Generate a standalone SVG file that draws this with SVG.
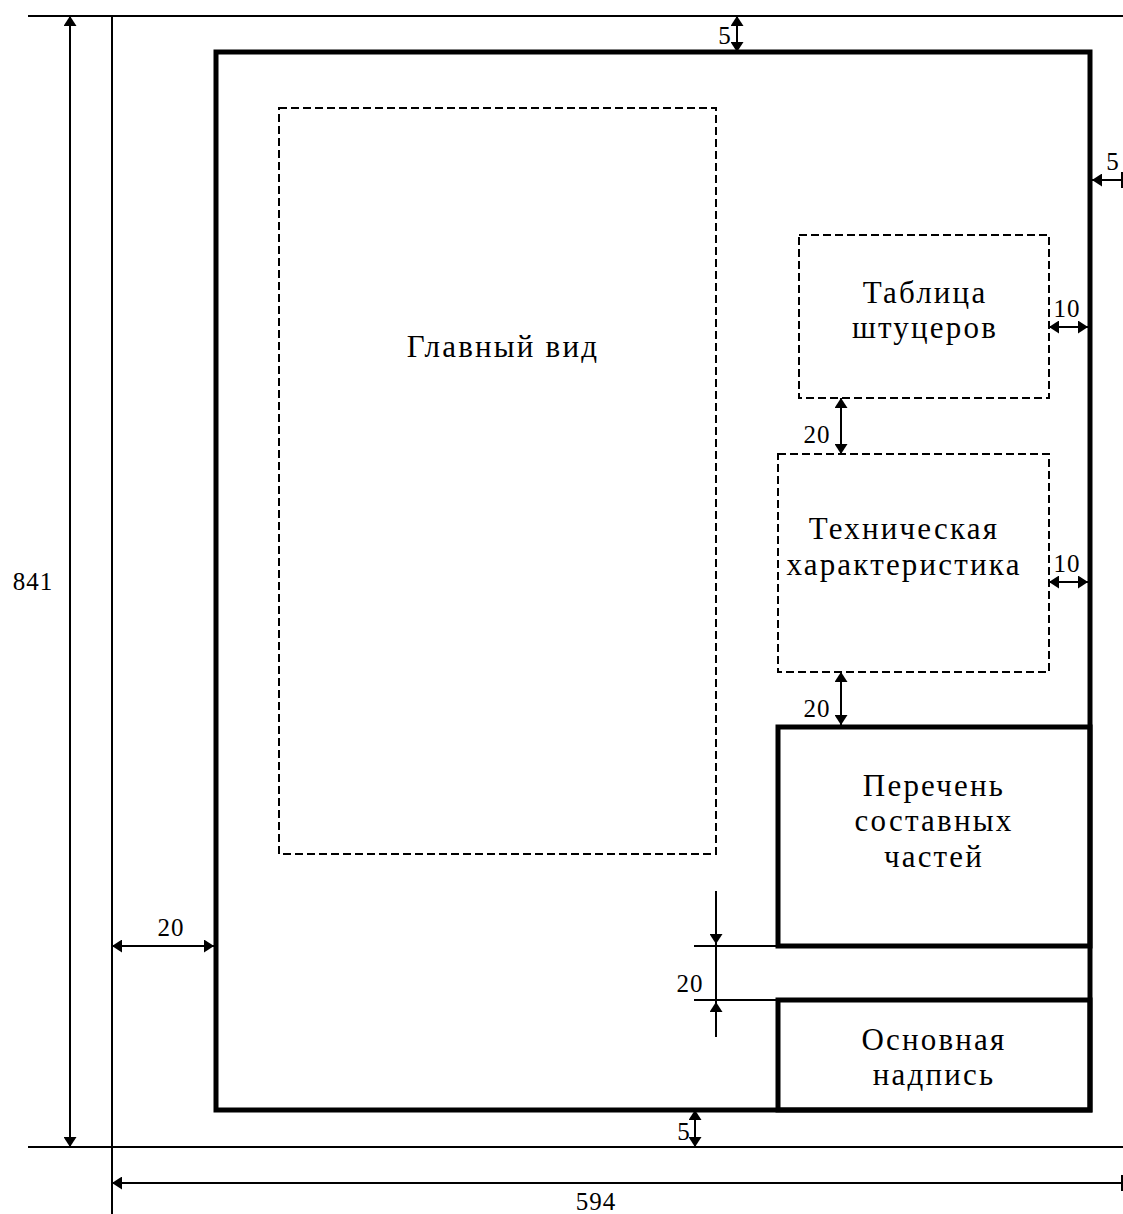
<svg xmlns="http://www.w3.org/2000/svg" width="1123" height="1214" viewBox="0 0 1123 1214">
<style>
.thin{stroke:#000;stroke-width:2;fill:none}
.dim{stroke:#000;stroke-width:2;fill:none}
.thick{stroke:#000;stroke-width:5;fill:none}
.dash{stroke:#000;stroke-width:2;fill:none;stroke-dasharray:8,4}
.t{font-family:"Liberation Serif","Times New Roman",serif;font-size:31px;letter-spacing:2.2px;fill:#000;text-anchor:middle}
.l{font-family:"Liberation Serif","Times New Roman",serif;font-size:25px;letter-spacing:1px;fill:#000;text-anchor:middle}
</style>
<defs>
<marker id="a" markerUnits="userSpaceOnUse" markerWidth="10" markerHeight="13" viewBox="0 0 10 13" refX="10" refY="6.5" orient="auto-start-reverse">
<path d="M0,0 L10,6.5 L0,13 z" fill="#000"/>
</marker>
</defs>
<rect width="1123" height="1214" fill="#fff"/>

<g id="sheet">
<line class="thin" x1="28" y1="16" x2="1123" y2="16"/>
<line class="thin" x1="28" y1="1147" x2="1123" y2="1147"/>
<line class="thin" x1="112" y1="16" x2="112" y2="1214"/>
<rect class="thick" x="216" y="52" width="874" height="1058"/>
</g>

<g id="main-view">
<rect class="dash" x="279" y="108" width="437" height="746"/>
<text class="t" x="503" y="357">Главный вид</text>
</g>

<g id="nozzle-table">
<rect class="dash" x="799" y="235" width="250" height="163"/>
<text class="t" x="925" y="303">Таблица</text>
<text class="t" x="925" y="338">штуцеров</text>
</g>

<g id="tech-spec">
<rect class="dash" x="778" y="454" width="271" height="218"/>
<text class="t" x="904" y="539">Техническая</text>
<text class="t" x="904" y="575">характеристика</text>
</g>

<g id="parts-list">
<rect class="thick" x="778" y="727" width="312" height="219"/>
<text class="t" x="934" y="796">Перечень</text>
<text class="t" x="934" y="831">составных</text>
<text class="t" x="934" y="867">частей</text>
</g>

<g id="title-block">
<rect class="thick" x="778" y="1000" width="312" height="110"/>
<text class="t" x="934" y="1050">Основная</text>
<text class="t" x="934" y="1085">надпись</text>
</g>

<g id="dimensions">
<line class="dim" x1="70" y1="16" x2="70" y2="1147" marker-start="url(#a)" marker-end="url(#a)"/>
<text class="l" x="33" y="590">841</text>

<line class="dim" x1="112" y1="1183" x2="1122" y2="1183" marker-start="url(#a)"/>
<line class="dim" x1="1122" y1="1175" x2="1122" y2="1191"/>
<text class="l" x="596" y="1210">594</text>

<line class="dim" x1="737" y1="16" x2="737" y2="52" marker-start="url(#a)" marker-end="url(#a)"/>
<text class="l" x="725" y="44">5</text>

<line class="dim" x1="695" y1="1110" x2="695" y2="1147" marker-start="url(#a)" marker-end="url(#a)"/>
<text class="l" x="684" y="1140">5</text>

<line class="dim" x1="1122" y1="180" x2="1092" y2="180" marker-end="url(#a)"/>
<line class="dim" x1="1122" y1="172" x2="1122" y2="188"/>
<text class="l" x="1113" y="170">5</text>

<line class="dim" x1="1049" y1="327" x2="1088" y2="327" marker-start="url(#a)" marker-end="url(#a)"/>
<text class="l" x="1067" y="317">10</text>

<line class="dim" x1="1049" y1="582" x2="1088" y2="582" marker-start="url(#a)" marker-end="url(#a)"/>
<text class="l" x="1067" y="572">10</text>

<line class="dim" x1="841" y1="398" x2="841" y2="454" marker-start="url(#a)" marker-end="url(#a)"/>
<text class="l" x="817" y="443">20</text>

<line class="dim" x1="841" y1="672" x2="841" y2="725" marker-start="url(#a)" marker-end="url(#a)"/>
<text class="l" x="817" y="717">20</text>

<line class="dim" x1="112" y1="946" x2="214" y2="946" marker-start="url(#a)" marker-end="url(#a)"/>
<text class="l" x="171" y="936">20</text>

<line class="dim" x1="694" y1="946" x2="778" y2="946"/>
<line class="dim" x1="694" y1="1000" x2="778" y2="1000"/>
<line class="dim" x1="716" y1="891" x2="716" y2="944" marker-end="url(#a)"/>
<line class="dim" x1="716" y1="944" x2="716" y2="1002"/>
<line class="dim" x1="716" y1="1037" x2="716" y2="1002" marker-end="url(#a)"/>
<text class="l" x="690" y="992">20</text>
</g>
</svg>
